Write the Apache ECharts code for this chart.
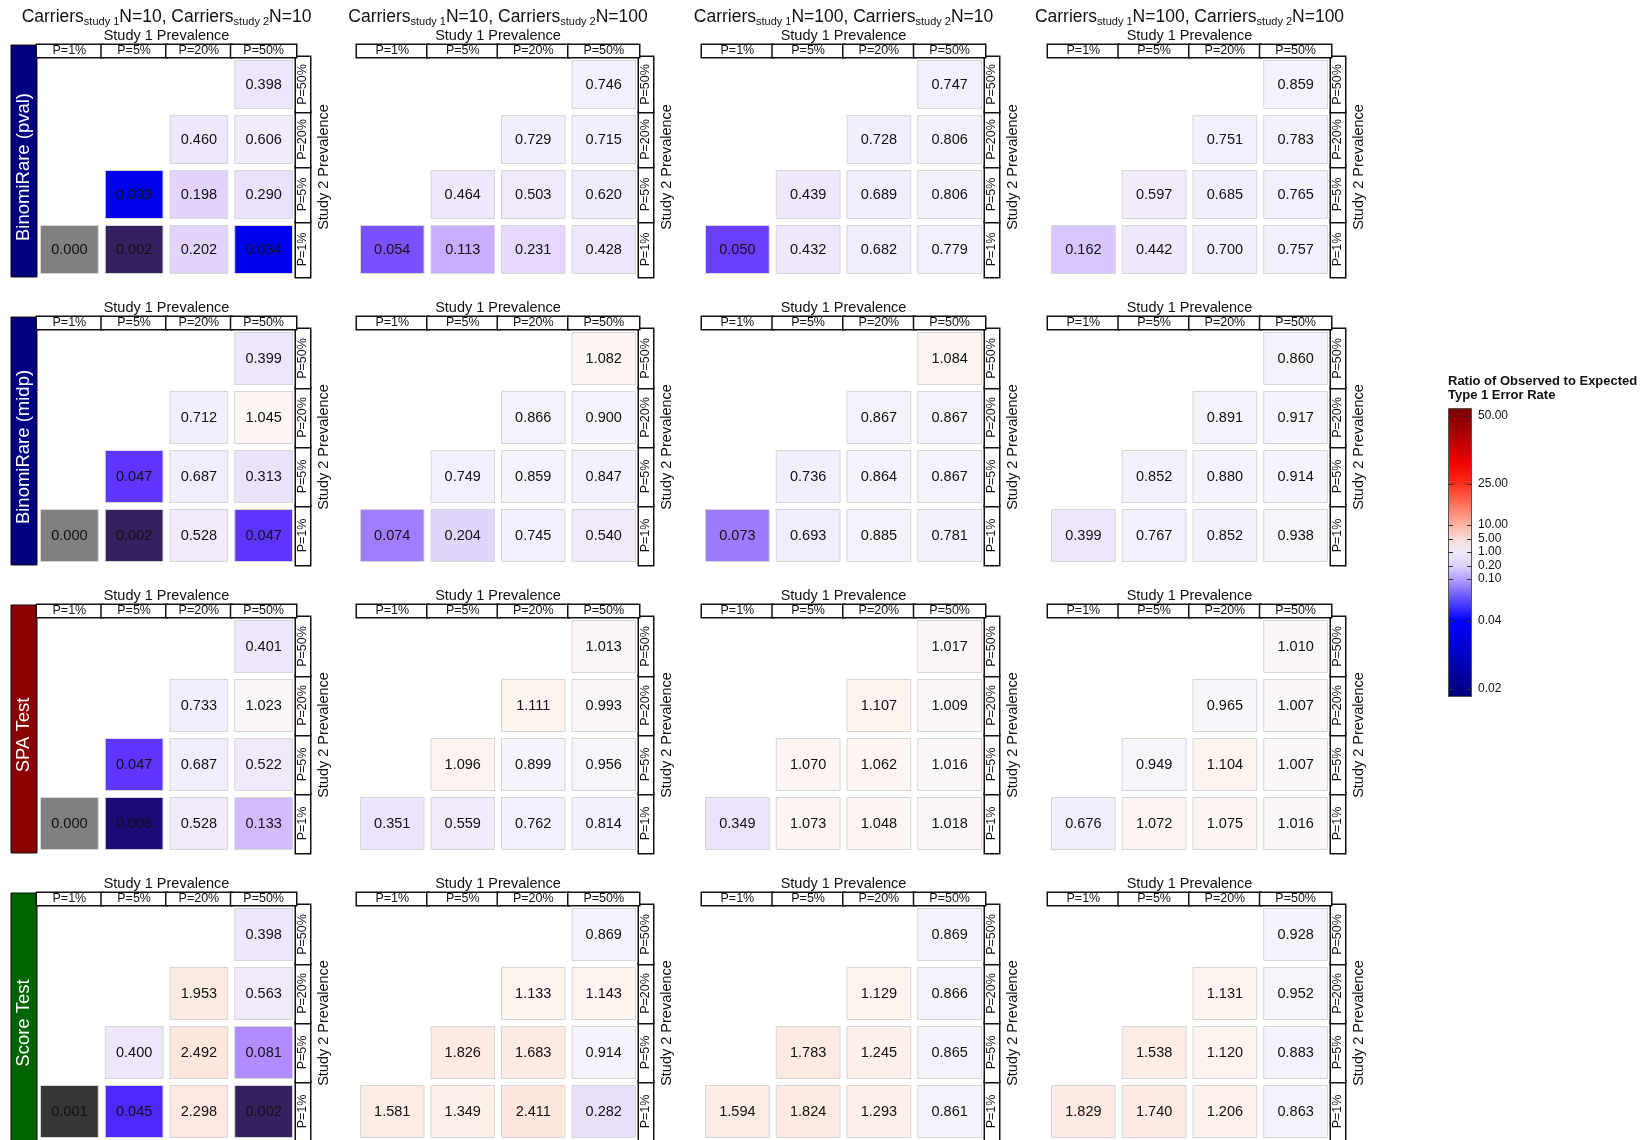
<!DOCTYPE html>
<html>
<head>
<meta charset="utf-8">
<script src="https://cdn.jsdelivr.net/npm/echarts@6/dist/echarts.min.js"></script>
<style>
  html, body { margin: 0; padding: 0; background: #fff; }
  #chart { width: 1652px; height: 1140px; }
</style>
</head>
<body>
<div id="chart"></div>
<script>
const prevalence = ['P=1%', 'P=5%', 'P=20%', 'P=50%'];
const carriers1 = [10, 10, 100, 100];
const carriers2 = [10, 100, 10, 100];
const methods = ['BinomiRare (pval)', 'BinomiRare (midp)', 'SPA Test', 'Score Test'];

// one block per N combination; rows = study 2 prevalence (P=1% .. P=50%), cols = study 1 prevalence
const binomiPval = [
  [[0.000, 0.002, 0.202, 0.034], [null, 0.039, 0.198, 0.290], [null, null, 0.460, 0.606], [null, null, null, 0.398]],
  [[0.054, 0.113, 0.231, 0.428], [null, 0.464, 0.503, 0.620], [null, null, 0.729, 0.715], [null, null, null, 0.746]],
  [[0.050, 0.432, 0.682, 0.779], [null, 0.439, 0.689, 0.806], [null, null, 0.728, 0.806], [null, null, null, 0.747]],
  [[0.162, 0.442, 0.700, 0.757], [null, 0.597, 0.685, 0.765], [null, null, 0.751, 0.783], [null, null, null, 0.859]]
];
const binomiMidp = [
  [[0.000, 0.002, 0.528, 0.047], [null, 0.047, 0.687, 0.313], [null, null, 0.712, 1.045], [null, null, null, 0.399]],
  [[0.074, 0.204, 0.745, 0.540], [null, 0.749, 0.859, 0.847], [null, null, 0.866, 0.900], [null, null, null, 1.082]],
  [[0.073, 0.693, 0.885, 0.781], [null, 0.736, 0.864, 0.867], [null, null, 0.867, 0.867], [null, null, null, 1.084]],
  [[0.399, 0.767, 0.852, 0.938], [null, 0.852, 0.880, 0.914], [null, null, 0.891, 0.917], [null, null, null, 0.860]]
];
const spaTest = [
  [[0.000, 0.006, 0.528, 0.133], [null, 0.047, 0.687, 0.522], [null, null, 0.733, 1.023], [null, null, null, 0.401]],
  [[0.351, 0.559, 0.762, 0.814], [null, 1.096, 0.899, 0.956], [null, null, 1.111, 0.993], [null, null, null, 1.013]],
  [[0.349, 1.073, 1.048, 1.018], [null, 1.070, 1.062, 1.016], [null, null, 1.107, 1.009], [null, null, null, 1.017]],
  [[0.676, 1.072, 1.075, 1.016], [null, 0.949, 1.104, 1.007], [null, null, 0.965, 1.007], [null, null, null, 1.010]]
];
const scoreTest = [
  [[0.001, 0.045, 2.298, 0.002], [null, 0.400, 2.492, 0.081], [null, null, 1.953, 0.563], [null, null, null, 0.398]],
  [[1.581, 1.349, 2.411, 0.282], [null, 1.826, 1.683, 0.914], [null, null, 1.133, 1.143], [null, null, null, 0.869]],
  [[1.594, 1.824, 1.293, 0.861], [null, 1.783, 1.245, 0.865], [null, null, 1.129, 0.866], [null, null, null, 0.869]],
  [[1.829, 1.740, 1.206, 0.863], [null, 1.538, 1.120, 0.883], [null, null, 1.131, 0.952], [null, null, null, 0.928]]
];
const legendTicks = [0.02, 0.04, 0.1, 0.2, 1, 5, 10, 25, 50];

// ---- layout / style ----
const FONT = '"Liberation Sans", Arial, Helvetica, sans-serif';
const methodData = [binomiPval, binomiMidp, spaTest, scoreTest];
const methodColors = ['#000080', '#000080', '#8b0000', '#006400'];
const panelX = [[37, 296], [357, 639], [702, 985], [1048, 1331]];
const panelY = [[57, 277], [329, 565], [617, 853], [905, 1141]];
const stripH = 12;
// where each legend tick sits on the colour bar (0 = bottom, 1 = top)
const legendPos = [0.028, 0.263, 0.408, 0.453, 0.502, 0.547, 0.595, 0.737, 0.972];

const cellColorStops = [
  [0, '#808080'], [0.001, '#363636'], [0.002, '#34205e'], [0.006, '#1d0b79'],
  [0.02, '#0a06c0'], [0.034, '#0000f0'], [0.039, '#0000ee'], [0.045, '#5028ff'],
  [0.047, '#5e34ff'], [0.05, '#6a40ff'], [0.054, '#7a50ff'], [0.074, '#a07cff'],
  [0.081, '#b08cff'], [0.113, '#c8adff'], [0.133, '#d2bcff'], [0.162, '#d8c6ff'],
  [0.2, '#e2d4fc'], [0.3, '#ebe2fc'], [0.45, '#efe8fc'], [0.6, '#f1ebfc'],
  [0.8, '#f4f0fc'], [0.95, '#f7f4fc'], [1.0, '#fbf6f8'], [1.05, '#fdf6f3'],
  [1.2, '#fdf1ec'], [1.6, '#fdece4'], [2.5, '#fde6dc'], [10, '#ffb0a0'],
  [25, '#ff3020'], [50, '#800000']
];
const barStops = [
  [0, '#000070'], [0.028, '#000088'], [0.14, '#0000c0'], [0.263, '#0000ff'],
  [0.34, '#6050ff'], [0.408, '#b8a0ff'], [0.453, '#dcd0fa'], [0.502, '#f0eaf6'],
  [0.547, '#f8dcd8'], [0.595, '#ffb4a4'], [0.66, '#ff7860'], [0.737, '#ff3020'],
  [0.81, '#f00000'], [0.9, '#b00000'], [1, '#780000']
];

function hexToRgb(h) {
  const n = parseInt(h.slice(1), 16);
  return [(n >> 16) & 255, (n >> 8) & 255, n & 255];
}
function cellColor(v) {
  const s = cellColorStops;
  if (v <= s[0][0]) return s[0][1];
  for (let k = 1; k < s.length; k++) {
    if (v <= s[k][0]) {
      const t = (v - s[k - 1][0]) / (s[k][0] - s[k - 1][0]);
      const a = hexToRgb(s[k - 1][1]), b = hexToRgb(s[k][1]);
      return 'rgb(' + a.map((x, q) => Math.round(x + (b[q] - x) * t)).join(',') + ')';
    }
  }
  return s[s.length - 1][1];
}

function renderTile(params, api) {
  const v = api.value(2);
  const c = api.coord([api.value(0), api.value(1)]);
  const s = api.size([1, 1]);
  const pad = 3.5;
  return {
    type: 'group',
    children: [
      {
        type: 'rect',
        shape: { x: c[0] - s[0] / 2 + pad, y: c[1] - s[1] / 2 + pad, width: s[0] - 2 * pad, height: s[1] - 2 * pad },
        style: { fill: cellColor(v), stroke: '#d6d6d6', lineWidth: 1 }
      },
      {
        type: 'text',
        x: c[0], y: c[1],
        style: { text: v.toFixed(3), align: 'center', verticalAlign: 'middle', fill: '#111', font: '14.5px ' + FONT }
      }
    ]
  };
}

const grids = [], xAxes = [], yAxes = [], series = [], graphics = [];

for (let r = 0; r < 4; r++) {
  for (let c = 0; c < 4; c++) {
    const gi = grids.length;
    const [x0, x1] = panelX[c];
    const [y0, y1] = panelY[r];
    const colW = (x1 - x0) / 4;
    const rowH = (y1 - y0) / 4;
    grids.push({ left: x0, top: y0, width: x1 - x0, height: y1 - y0, outerBoundsMode: 'none' });
    xAxes.push({
      gridIndex: gi, type: 'category', position: 'top', data: prevalence,
      axisLine: { show: false }, axisTick: { show: false }, splitLine: { show: false },
      axisLabel: {
        interval: 0, margin: 0, fontSize: 12.5, fontFamily: FONT, color: '#111',
        width: colW, height: stripH, lineHeight: stripH, padding: 0, overflow: 'none',
        backgroundColor: '#fff', borderColor: '#111', borderWidth: 1.5
      },
      name: 'Study 1 Prevalence', nameLocation: 'middle', nameGap: 14, nameMoveOverlap: false,
      nameTextStyle: { fontSize: 14.5, fontFamily: FONT, color: '#111' }
    });
    yAxes.push({
      gridIndex: gi, type: 'category', position: 'right', data: prevalence,
      axisLine: { show: false }, axisTick: { show: false }, splitLine: { show: false },
      axisLabel: {
        interval: 0, margin: 0, rotate: 90, fontSize: 12.5, fontFamily: FONT, color: '#111',
        width: rowH, height: 14, lineHeight: 14, padding: 0, overflow: 'none',
        backgroundColor: '#fff', borderColor: '#111', borderWidth: 1.5
      },
      name: 'Study 2 Prevalence', nameLocation: 'middle', nameRotate: 90, nameGap: 20, nameMoveOverlap: false,
      nameTextStyle: { fontSize: 14.5, fontFamily: FONT, color: '#111' }
    });
    const panel = methodData[r][c];
    const data = [];
    for (let j = 0; j < 4; j++) {
      for (let i = 0; i < 4; i++) {
        if (panel[j][i] !== null) data.push([i, j, panel[j][i]]);
      }
    }
    series.push({
      type: 'custom', xAxisIndex: gi, yAxisIndex: gi, data: data,
      renderItem: renderTile, silent: true, animation: false
    });
  }
  // method strip on the left
  const top = panelY[r][0] - stripH;
  const bottom = panelY[r][1];
  graphics.push({
    type: 'rect', shape: { x: 11, y: top, width: 26, height: bottom - top },
    style: { fill: methodColors[r], stroke: '#111', lineWidth: 1 }
  });
  graphics.push({
    type: 'text', x: 24, y: (panelY[r][0] + panelY[r][1]) / 2, rotation: Math.PI / 2,
    style: { text: methods[r], fill: '#fff', font: '18.5px ' + FONT, align: 'center', verticalAlign: 'middle' }
  });
}

// column titles
for (let c = 0; c < 4; c++) {
  graphics.push({
    type: 'text', x: (panelX[c][0] + panelX[c][1]) / 2, y: 17,
    style: {
      text: 'Carriers{sub|study 1}N=' + carriers1[c] + ', Carriers{sub|study 2}N=' + carriers2[c],
      fontSize: 17.5, fontFamily: FONT, fill: '#111', align: 'center', verticalAlign: 'middle',
      rich: { sub: { fontSize: 11, fontFamily: FONT, fill: '#111', padding: [9, 0, 0, 0] } }
    }
  });
}

// colour bar title
graphics.push({
  type: 'text', x: 1448, y: 375,
  style: {
    text: 'Ratio of Observed to Expected\nType 1 Error Rate',
    font: 'bold 13px ' + FONT, lineHeight: 13.5, fill: '#111', align: 'left', verticalAlign: 'top'
  }
});

// colour bar as its own grid
const cbi = grids.length;
grids.push({ left: 1448, top: 408, width: 24, height: 289, outerBoundsMode: 'none' });
xAxes.push({ gridIndex: cbi, type: 'category', data: ['bar'], show: false });
const tickFmt = function (val) {
  for (let k = 0; k < legendPos.length; k++) {
    if (Math.abs(legendPos[k] - val) < 1e-6) return legendTicks[k].toFixed(2);
  }
  return '';
};
yAxes.push({
  gridIndex: cbi, type: 'value', position: 'right', min: 0, max: 1, z: 10,
  axisLine: { show: false }, splitLine: { show: false },
  axisTick: { show: true, inside: true, length: 5, customValues: legendPos, lineStyle: { color: '#333', width: 1 } },
  axisLabel: { customValues: legendPos, formatter: tickFmt, margin: 6, fontSize: 12, fontFamily: FONT, color: '#111' }
});
yAxes.push({
  gridIndex: cbi, type: 'value', position: 'left', min: 0, max: 1, z: 10,
  axisLine: { show: false }, splitLine: { show: false },
  axisTick: { show: true, inside: true, length: 5, customValues: legendPos, lineStyle: { color: '#333', width: 1 } },
  axisLabel: { show: false }
});
series.push({
  type: 'bar', xAxisIndex: cbi, yAxisIndex: cbi, data: [1], barWidth: '100%', silent: true, animation: false,
  itemStyle: {
    color: new echarts.graphic.LinearGradient(0, 1, 0, 0, barStops.map(s => ({ offset: s[0], color: s[1] }))),
    borderColor: '#555', borderWidth: 1
  }
});

const chart = echarts.init(document.getElementById('chart'), null, { renderer: 'canvas' });
chart.setOption({
  animation: false,
  backgroundColor: '#fff',
  textStyle: { fontFamily: FONT },
  grid: grids,
  xAxis: xAxes,
  yAxis: yAxes,
  series: series,
  graphic: graphics
});
</script>
</body>
</html>
